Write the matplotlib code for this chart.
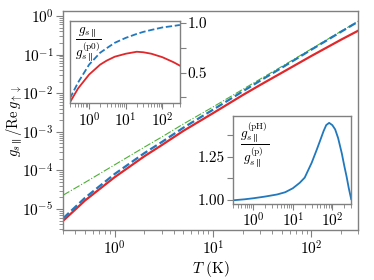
import matplotlib
matplotlib.use("Agg")
import matplotlib.pyplot as plt
from matplotlib.ticker import LogLocator, NullFormatter, FixedLocator, FixedFormatter

plt.rcParams['font.family'] = 'serif'
plt.rcParams['font.serif'] = ['cmr10', 'DejaVu Serif']
plt.rcParams['mathtext.fontset'] = 'cm'
plt.rcParams['axes.formatter.use_mathtext'] = True
plt.rcParams['axes.unicode_minus'] = False

# ---- data ----
T = [0.3, 0.5, 1, 2, 3, 5, 10, 20, 30, 50, 100, 200, 300]
g_green = [2.3e-5, 4.9e-5, 1.4e-4, 4.0e-4, 7.3e-4, 1.6e-3, 4.4e-3, 1.25e-2, 2.3e-2, 4.9e-2, 0.14, 0.40, 0.73]
g_blue = [5.8e-6, 1.96e-5, 8.1e-5, 2.8e-4, 5.4e-4, 1.28e-3, 3.74e-3, 1.11e-2, 2.09e-2, 4.56e-2, 0.134, 0.388, 0.715]
g_red = [5.0e-6, 1.67e-5, 6.7e-5, 2.32e-4, 4.5e-4, 1.06e-3, 3.04e-3, 8.9e-3, 1.62e-2, 3.38e-2, 9.2e-2, 0.242, 0.416]

ratio_blue = [0.24, 0.40, 0.58, 0.70, 0.745, 0.80, 0.85, 0.89, 0.91, 0.93, 0.955, 0.97, 0.98]
ratio_red = [0.20, 0.34, 0.48, 0.58, 0.62, 0.66, 0.69, 0.71, 0.705, 0.69, 0.655, 0.605, 0.57]

T2 = [0.3, 0.6, 1, 2, 4, 6.4, 10, 15, 20, 30, 40, 50, 60, 70, 83, 100, 118, 140, 174, 200, 230, 260, 300]
ratio_pH = [0.998, 1.004, 1.01, 1.02, 1.032, 1.045, 1.068, 1.10, 1.13, 1.216, 1.29, 1.35, 1.40, 1.435,
            1.448, 1.435, 1.41, 1.36, 1.27, 1.20, 1.135, 1.07, 1.005]

RED = '#e0272a'
BLUE = '#2178bd'
GREEN = '#4caf35'
SPINE = '0.5'
FS = 11

fig = plt.figure(figsize=(3.74, 2.80), dpi=100)
ax = fig.add_axes([0.169, 0.179, 0.789, 0.783])

ax.plot(T, g_green, color=GREEN, lw=0.8, ls='-.')
ax.plot(T, g_red, color=RED, lw=1.6)
ax.plot(T, g_blue, color=BLUE, lw=1.6, ls=(0, (3.5, 1.5)))
ax.set_xscale('log')
ax.set_yscale('log')
ax.set_xlim(0.3, 300)
ax.set_ylim(2.9e-6, 1.37)
ax.set_xlabel(r'$T\ (\mathrm{K})$', fontsize=FS, labelpad=1)
ax.set_ylabel(r'$g_{s\parallel}/\mathrm{Re}\,g_{\uparrow\downarrow}$', fontsize=10.5)
ax.yaxis.set_label_coords(-0.13, 0.5)
ax.xaxis.set_major_locator(LogLocator(base=10, numticks=10))
ax.xaxis.set_minor_locator(LogLocator(base=10, subs=range(2, 10), numticks=20))
ax.yaxis.set_major_locator(LogLocator(base=10, numticks=12))
ax.yaxis.set_minor_locator(LogLocator(base=10, subs=range(2, 10), numticks=20))
ax.xaxis.set_minor_formatter(NullFormatter())
ax.yaxis.set_minor_formatter(NullFormatter())
ax.tick_params(which='both', direction='out', color=SPINE, labelsize=FS, top=False, right=False)
ax.tick_params(which='major', length=5, width=0.8, pad=2)
ax.tick_params(which='minor', length=3, width=0.6)
for s in ax.spines.values():
    s.set_color(SPINE)
    s.set_linewidth(1.0)

# ---- inset 1 ----
ax1 = fig.add_axes([0.187, 0.631, 0.294, 0.294])
ax1.plot(T, ratio_red, color=RED, lw=1.3)
ax1.plot(T, ratio_blue, color=BLUE, lw=1.3, ls=(0, (3.5, 1.5)))
ax1.set_xscale('log')
ax1.set_xlim(0.3, 300)
ax1.set_ylim(0.19, 1.02)
ax1.yaxis.tick_right()
ax1.yaxis.set_major_locator(FixedLocator([0.5, 1.0]))
ax1.yaxis.set_major_formatter(FixedFormatter(['0.5', '1.0']))
ax1.yaxis.set_minor_locator(FixedLocator([0.25, 0.75]))
ax1.xaxis.set_major_locator(LogLocator(base=10, numticks=10))
ax1.xaxis.set_minor_locator(LogLocator(base=10, subs=range(2, 10), numticks=20))
ax1.xaxis.set_minor_formatter(NullFormatter())
ax1.tick_params(which='both', direction='out', color=SPINE, labelsize=FS, pad=1.5)
ax1.tick_params(which='major', length=4, width=0.8)
ax1.tick_params(which='minor', length=3, width=0.6)
ax1.tick_params(axis='y', which='minor', length=4, width=0.8)
for s in ax1.spines.values():
    s.set_color(SPINE)
    s.set_linewidth(1.0)
ax1.text(0.05, 0.95, r'$\dfrac{g_{s\parallel}}{g_{s\parallel}^{(\mathrm{p0})}}$', transform=ax1.transAxes,
         fontsize=9.5, va='top', ha='left')

# ---- inset 2 ----
ax2 = fig.add_axes([0.622, 0.271, 0.317, 0.316])
ax2.plot(T2, ratio_pH, color=BLUE, lw=1.3)
ax2.set_xscale('log')
ax2.set_xlim(0.3, 300)
ax2.set_ylim(0.976, 1.49)
ax2.yaxis.set_major_locator(FixedLocator([1.0, 1.25]))
ax2.yaxis.set_major_formatter(FixedFormatter(['1.00', '1.25']))
ax2.yaxis.set_minor_locator(FixedLocator([1.125, 1.375]))
ax2.xaxis.set_major_locator(LogLocator(base=10, numticks=10))
ax2.xaxis.set_minor_locator(LogLocator(base=10, subs=range(2, 10), numticks=20))
ax2.xaxis.set_minor_formatter(NullFormatter())
ax2.tick_params(which='both', direction='out', color=SPINE, labelsize=FS, pad=1.5)
ax2.tick_params(which='major', length=4, width=0.8)
ax2.tick_params(which='minor', length=3, width=0.6)
ax2.tick_params(axis='y', which='minor', length=4, width=0.8)
for s in ax2.spines.values():
    s.set_color(SPINE)
    s.set_linewidth(1.0)
ax2.text(0.06, 0.95, r'$\dfrac{g_{s\parallel}^{(\mathrm{pH})}}{g_{s\parallel}^{(\mathrm{p})}}$', transform=ax2.transAxes,
         fontsize=9.5, va='top', ha='left')

fig.savefig('out.png', dpi=100)
